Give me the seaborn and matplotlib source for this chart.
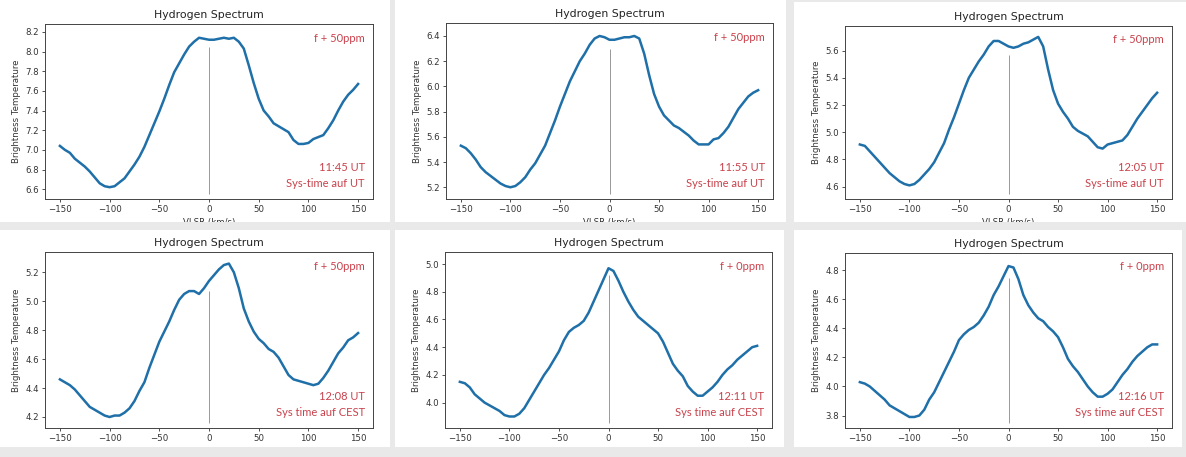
import numpy as np
import pandas as pd
import matplotlib
matplotlib.use("Agg")
import matplotlib.pyplot as plt
from matplotlib.patches import Rectangle
from matplotlib.transforms import Bbox, TransformedBbox
import seaborn as sns

vlsr = list(range(-150, 155, 5))

t_1145 = [7.04, 7.00, 6.97, 6.91, 6.87, 6.83, 6.78, 6.72, 6.66, 6.63, 6.62, 6.63, 6.67, 6.71, 6.78, 6.85,
          6.93, 7.03, 7.15, 7.27, 7.39, 7.52, 7.66, 7.79, 7.88, 7.97, 8.05, 8.10, 8.14, 8.13, 8.12, 8.12,
          8.13, 8.14, 8.13, 8.14, 8.10, 8.03, 7.86, 7.68, 7.52, 7.40, 7.34, 7.27, 7.24, 7.21, 7.18, 7.10,
          7.06, 7.06, 7.07, 7.11, 7.13, 7.15, 7.22, 7.30, 7.40, 7.49, 7.56, 7.61, 7.67]
t_1155 = [5.53, 5.51, 5.47, 5.42, 5.36, 5.32, 5.29, 5.26, 5.23, 5.21, 5.20, 5.21, 5.24, 5.28, 5.34, 5.39,
          5.46, 5.53, 5.63, 5.73, 5.84, 5.94, 6.04, 6.12, 6.20, 6.26, 6.33, 6.38, 6.40, 6.39, 6.37, 6.37,
          6.38, 6.39, 6.39, 6.40, 6.38, 6.26, 6.09, 5.94, 5.84, 5.77, 5.73, 5.69, 5.67, 5.64, 5.61, 5.57,
          5.54, 5.54, 5.54, 5.58, 5.59, 5.63, 5.68, 5.75, 5.82, 5.87, 5.92, 5.95, 5.97]
t_1205 = [4.91, 4.90, 4.86, 4.82, 4.78, 4.74, 4.70, 4.67, 4.64, 4.62, 4.61, 4.62, 4.65, 4.69, 4.73, 4.78,
          4.85, 4.92, 5.02, 5.11, 5.21, 5.31, 5.40, 5.46, 5.52, 5.57, 5.63, 5.67, 5.67, 5.65, 5.63, 5.62,
          5.63, 5.65, 5.66, 5.68, 5.70, 5.63, 5.46, 5.31, 5.21, 5.15, 5.10, 5.04, 5.01, 4.99, 4.97, 4.93,
          4.89, 4.88, 4.91, 4.92, 4.93, 4.94, 4.98, 5.04, 5.10, 5.15, 5.20, 5.25, 5.29]
t_1208 = [4.46, 4.44, 4.42, 4.39, 4.35, 4.31, 4.27, 4.25, 4.23, 4.21, 4.20, 4.21, 4.21, 4.23, 4.26, 4.31,
          4.38, 4.44, 4.54, 4.63, 4.72, 4.79, 4.86, 4.94, 5.01, 5.05, 5.07, 5.07, 5.05, 5.09, 5.14, 5.18,
          5.22, 5.25, 5.26, 5.20, 5.09, 4.95, 4.86, 4.79, 4.74, 4.71, 4.67, 4.65, 4.61, 4.55, 4.49, 4.46,
          4.45, 4.44, 4.43, 4.42, 4.43, 4.47, 4.52, 4.58, 4.64, 4.68, 4.73, 4.75, 4.78]
t_1211 = [4.15, 4.14, 4.11, 4.06, 4.03, 4.00, 3.98, 3.96, 3.94, 3.91, 3.90, 3.90, 3.92, 3.96, 4.02, 4.08,
          4.14, 4.20, 4.25, 4.31, 4.37, 4.45, 4.51, 4.54, 4.56, 4.59, 4.65, 4.73, 4.81, 4.89, 4.97, 4.95,
          4.88, 4.80, 4.73, 4.67, 4.62, 4.59, 4.56, 4.53, 4.50, 4.44, 4.36, 4.28, 4.23, 4.19, 4.12, 4.08,
          4.05, 4.05, 4.08, 4.11, 4.15, 4.20, 4.24, 4.27, 4.31, 4.34, 4.37, 4.40, 4.41]
t_1216 = [4.03, 4.02, 4.00, 3.97, 3.94, 3.91, 3.87, 3.85, 3.83, 3.81, 3.79, 3.79, 3.80, 3.84, 3.91, 3.96,
          4.03, 4.10, 4.17, 4.24, 4.32, 4.36, 4.39, 4.41, 4.44, 4.49, 4.55, 4.63, 4.69, 4.76, 4.83, 4.82,
          4.74, 4.63, 4.56, 4.51, 4.47, 4.45, 4.41, 4.38, 4.34, 4.27, 4.19, 4.14, 4.10, 4.05, 4.00, 3.96,
          3.93, 3.93, 3.95, 3.98, 4.03, 4.08, 4.12, 4.17, 4.21, 4.24, 4.27, 4.29, 4.29]

series = [t_1145, t_1155, t_1205, t_1208, t_1211, t_1216]
y_lims = [(6.50, 8.28), (5.107, 6.503), (4.51, 5.78), (4.124, 5.34), (3.817, 5.087), (3.714, 4.92)]
y_ticks = [[6.6, 6.8, 7.0, 7.2, 7.4, 7.6, 7.8, 8.0, 8.2],
           [5.2, 5.4, 5.6, 5.8, 6.0, 6.2, 6.4],
           [4.6, 4.8, 5.0, 5.2, 5.4, 5.6],
           [4.2, 4.4, 4.6, 4.8, 5.0, 5.2],
           [4.0, 4.2, 4.4, 4.6, 4.8, 5.0],
           [3.8, 4.0, 4.2, 4.4, 4.6, 4.8]]
zero_line_top = [8.05, 6.30, 5.57, 5.07, 4.92, 4.75]
freq_labels = ["f + 50ppm", "f + 50ppm", "f + 50ppm", "f + 50ppm", "f + 0ppm", "f + 0ppm"]
time_labels = ["11:45 UT", "11:55 UT", "12:05 UT", "12:08 UT", "12:11 UT", "12:16 UT"]
sys_labels = ["Sys-time auf UT", "Sys-time auf UT", "Sys-time auf UT",
              "Sys time auf CEST", "Sys time auf CEST", "Sys time auf CEST"]

W, H = 1186, 457
fig = plt.figure(figsize=(W / 100, H / 100), dpi=100, facecolor="#e9e9e9")

# screenshot tiles (pixels: x0, y0, x1, y1) and axes boxes inside them
tiles = [(0, 0, 390, 222), (395, 0, 786, 222), (794, 2, 1186, 222),
         (0, 230, 390, 447), (395, 230, 784, 447), (794, 230, 1182, 447)]
boxes = [(45, 24, 373, 199), (446, 23, 773, 199), (845, 26, 1172, 199),
         (45, 252, 373, 428), (445, 252, 772, 428), (845, 253, 1172, 428)]

def fx(px):
    return px / W

def fy(py):
    return 1 - py / H

red = "#c9424c"

for i in range(6):
    tx0, ty0, tx1, ty1 = tiles[i]
    fig.patches.append(Rectangle((fx(tx0), fy(ty1)), fx(tx1 - tx0), (ty1 - ty0) / H,
                                 transform=fig.transFigure, facecolor="white", edgecolor="none", zorder=-5))
    bx0, by0, bx1, by1 = boxes[i]
    ax = fig.add_axes([fx(bx0), fy(by1), fx(bx1 - bx0), (by1 - by0) / H])

    df = pd.DataFrame({"v": vlsr, "t": series[i]})
    sns.lineplot(data=df, x="v", y="t", ax=ax, color="#1f6fa8", linewidth=1.8)

    lo, hi = y_lims[i]
    ax.vlines(0, lo + 0.03 * (hi - lo), zero_line_top[i], color="#999999", linewidth=0.7, zorder=1)
    ax.set_xlim(-165, 165)
    ax.set_ylim(lo, hi)
    ax.set_xticks([-150, -100, -50, 0, 50, 100, 150])
    ax.set_yticks(y_ticks[i])
    ax.set_yticklabels([f"{v:.1f}" for v in y_ticks[i]])
    ax.tick_params(labelsize=6.2, length=2.5, width=0.6, pad=2, colors="#333333")
    for s in ax.spines.values():
        s.set_linewidth(0.7)
        s.set_color("#444444")
    ax.set_title("Hydrogen Spectrum", fontsize=7.8, pad=4, color="#222222")
    ax.set_ylabel("Brightness Temperature", fontsize=6.2, labelpad=3, color="#333333")
    ax.set_xlabel("VLSR (km/s)", fontsize=6.2, labelpad=3, color="#333333")
    clip = TransformedBbox(Bbox([[fx(tx0), fy(ty1)], [fx(tx1), fy(ty0)]]), fig.transFigure)
    ax.xaxis.label.set_clip_box(clip)
    ax.xaxis.label.set_clip_on(True)

    ax.text(0.975, 0.92, freq_labels[i], transform=ax.transAxes, ha="right", va="center",
            fontsize=8, color=red, family=["Lato", "DejaVu Sans"])
    ax.text(0.975, 0.18, time_labels[i], transform=ax.transAxes, ha="right", va="center",
            fontsize=8, color=red, family=["Lato", "DejaVu Sans"])
    ax.text(0.975, 0.09, sys_labels[i], transform=ax.transAxes, ha="right", va="center",
            fontsize=8, color=red, family=["Lato", "DejaVu Sans"])

fig.savefig("out.png", dpi=100, facecolor=fig.get_facecolor())
